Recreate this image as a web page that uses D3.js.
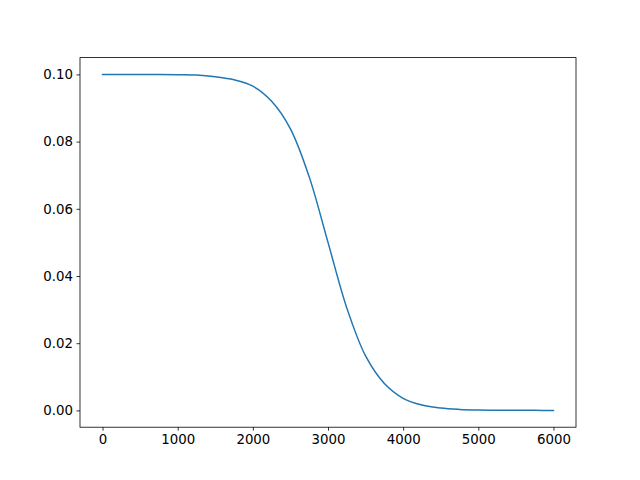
<!DOCTYPE html>
<meta charset="utf-8">
<style>
body { margin: 0; background: #fff; }
.axis text { font-family: "DejaVu Sans", sans-serif; font-size: 13.33px; fill: #000; }
.axis path, .axis line { stroke: #000; stroke-width: 0.8px; }
</style>
<svg width="640" height="480"></svg>
<script src="https://d3js.org/d3.v7.min.js"></script>
<script>
// values
var xs = [0, 250, 500, 750, 1000, 1250, 1500, 1750, 2000, 2250, 2500, 2750, 3000,
          3250, 3500, 3750, 4000, 4250, 4500, 4750, 5000, 5250, 5500, 5750, 6000];
var ys = [0.1000, 0.1000, 0.1000, 0.09995, 0.0999, 0.0998, 0.0993, 0.0984, 0.0965, 0.0920,
          0.0838, 0.0695, 0.0500, 0.0305, 0.0162, 0.0080, 0.0036, 0.0016, 0.0007, 0.0003,
          0.00012, 0.00005, 0.00002, 0.00001, 0.0000];
var xTicks = [0, 1000, 2000, 3000, 4000, 5000, 6000];
var yTicks = [0, 0.02, 0.04, 0.06, 0.08, 0.10];

var svg = d3.select("svg");
var plotL = 80, plotR = 576, plotT = 57.6, plotB = 427.2;

var x = d3.scaleLinear().domain([-300, 6300]).range([plotL, plotR]);
var y = d3.scaleLinear().domain([-0.005, 0.105]).range([plotB, plotT]);

var pts = xs.map(function(d, i) { return [d, ys[i]]; });

var line = d3.line()
    .x(function(d) { return x(d[0]); })
    .y(function(d) { return y(d[1]); })
    .curve(d3.curveCatmullRom.alpha(0.5));

svg.append("path")
    .datum(pts)
    .attr("d", line)
    .attr("fill", "none")
    .attr("stroke", "#1f77b4")
    .attr("stroke-width", 1.5)
    .attr("stroke-linecap", "square");

// frame
svg.append("rect")
    .attr("x", plotL).attr("y", plotT)
    .attr("width", plotR - plotL).attr("height", plotB - plotT)
    .attr("fill", "none").attr("stroke", "#000").attr("stroke-width", 0.8);

var xAxis = svg.append("g")
    .attr("class", "axis")
    .attr("transform", "translate(0," + plotB + ")")
    .call(d3.axisBottom(x).tickValues(xTicks).tickSize(3.5).tickPadding(3.5).tickFormat(d3.format("d")));
xAxis.select(".domain").remove();

var yAxis = svg.append("g")
    .attr("class", "axis")
    .attr("transform", "translate(" + plotL + ",0)")
    .call(d3.axisLeft(y).tickValues(yTicks).tickSize(3.5).tickPadding(3.5).tickFormat(d3.format(".2f")));
yAxis.select(".domain").remove();
</script>
